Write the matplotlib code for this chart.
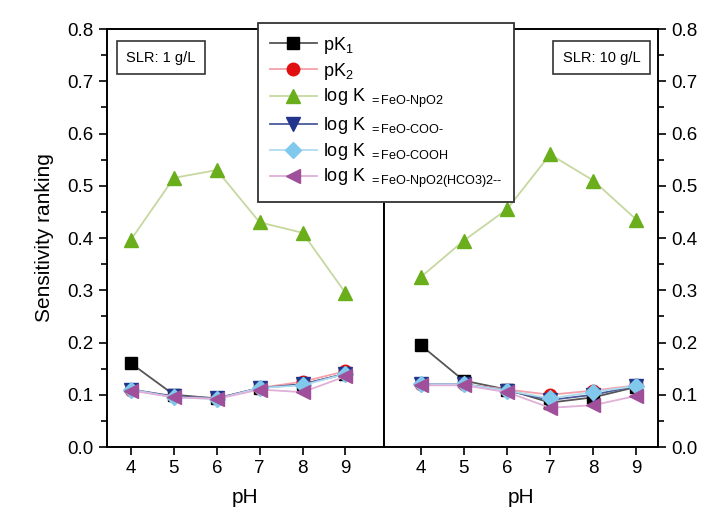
import matplotlib
matplotlib.use("Agg")
import matplotlib.pyplot as plt
from matplotlib.ticker import MultipleLocator, FormatStrFormatter

plt.rcParams['font.family'] = ['Liberation Sans', 'DejaVu Sans']
plt.rcParams['mathtext.fontset'] = 'custom'
plt.rcParams['mathtext.rm'] = 'Liberation Sans'
plt.rcParams['mathtext.it'] = 'Liberation Sans:italic'
plt.rcParams['mathtext.bf'] = 'Liberation Sans:bold'

ph = [4, 5, 6, 7, 8, 9]

# SLR 1 g/L
l_pk1 = [0.160, 0.100, 0.093, 0.113, 0.120, 0.140]
l_pk2 = [0.110, 0.097, 0.093, 0.113, 0.125, 0.145]
l_npo2 = [0.397, 0.515, 0.530, 0.430, 0.410, 0.295]
l_coo = [0.110, 0.097, 0.093, 0.113, 0.120, 0.140]
l_cooh = [0.110, 0.095, 0.092, 0.113, 0.118, 0.140]
l_hco3 = [0.108, 0.095, 0.092, 0.110, 0.105, 0.135]

# SLR 10 g/L
r_pk1 = [0.195, 0.127, 0.110, 0.085, 0.095, 0.115]
r_pk2 = [0.120, 0.120, 0.110, 0.100, 0.108, 0.118]
r_npo2 = [0.325, 0.395, 0.455, 0.560, 0.510, 0.435]
r_coo = [0.120, 0.120, 0.108, 0.090, 0.100, 0.117]
r_cooh = [0.120, 0.120, 0.108, 0.093, 0.105, 0.117]
r_hco3 = [0.118, 0.118, 0.105, 0.075, 0.080, 0.098]

H = '\u2010'
labels = ['pK$_{\\rm 1}$', 'pK$_{\\rm 2}$',
          'log K $_{\\rm =FeO' + H + 'NpO2}$',
          'log K $_{\\rm =FeO' + H + 'COO' + H + '}$',
          'log K $_{\\rm =FeO' + H + 'COOH}$',
          'log K $_{\\rm =FeO' + H + 'NpO2(HCO3)2' + H + H + '}$']

styles = [
    dict(marker='s', color='#555555', mfc='black', mec='black'),
    dict(marker='o', color='#f4a0a8', mfc='#e01010', mec='#e01010'),
    dict(marker='^', color='#c6d8a0', mfc='#6aae1c', mec='#6aae1c'),
    dict(marker='v', color='#4a5a9a', mfc='#23348c', mec='#23348c'),
    dict(marker='D', color='#b0dcf0', mfc='#80c8ec', mec='#80c8ec'),
    dict(marker='<', color='#e0b0d8', mfc='#a0509a', mec='#a0509a'),
]
msizes = [9, 9, 10, 10, 8, 10]

fig = plt.figure(figsize=(7.11, 5.19), dpi=100)
axL = fig.add_axes([107/711, 72/519, 277/711, 418/519])
axR = fig.add_axes([384/711, 72/519, 274/711, 418/519])

left = [l_pk1, l_pk2, l_npo2, l_coo, l_cooh, l_hco3]
right = [r_pk1, r_pk2, r_npo2, r_coo, r_cooh, r_hco3]

handles = []
for i, (st, ms) in enumerate(zip(styles, msizes)):
    h, = axL.plot(ph, left[i], lw=1.3, ms=ms, label=labels[i], **st)
    axR.plot(ph, right[i], lw=1.3, ms=ms, **st)
    handles.append(h)

axL.set_xlim(3.44, 9.9)
axR.set_xlim(3.15, 9.5)
for ax in (axL, axR):
    ax.set_ylim(0, 0.8)
    ax.set_xticks(ph)
    ax.yaxis.set_major_locator(MultipleLocator(0.1))
    ax.yaxis.set_minor_locator(MultipleLocator(0.05))
    ax.tick_params(axis='both', which='major', direction='out', length=6, width=1.2, labelsize=13.5)
    ax.tick_params(axis='y', which='minor', direction='out', length=4, width=1.2)
    ax.set_xlabel('pH', fontsize=15, labelpad=8)
    for s in ax.spines.values():
        s.set_linewidth(1.4)
    ax.yaxis.set_major_formatter(FormatStrFormatter('%.1f'))

axL.set_ylabel('Sensitivity ranking', fontsize=15, labelpad=10)
axR.yaxis.tick_right()
axR.yaxis.set_label_position('right')
axR.tick_params(axis='y', which='both', left=False, right=True)

box = dict(boxstyle='square,pad=0.65', fc='white', ec='#333333', lw=1.2)
axL.text(0.07, 0.948, 'SLR: 1 g/L', transform=axL.transAxes, fontsize=10.5,
         va='top', ha='left', bbox=box)
axR.text(0.935, 0.948, 'SLR: 10 g/L', transform=axR.transAxes, fontsize=10.5,
         va='top', ha='right', bbox=box)

leg = fig.legend(handles=handles, loc='upper left',
                 bbox_to_anchor=(258/711, 1 - 23/519), fontsize=13,
                 frameon=True, fancybox=False, edgecolor='#333333',
                 framealpha=1, handlelength=2.6, labelspacing=0.28,
                 borderpad=0.65, handletextpad=0.35, borderaxespad=0)
leg.get_frame().set_linewidth(1.3)
leg.set_zorder(10)

fig.savefig('out.png', dpi=100)
